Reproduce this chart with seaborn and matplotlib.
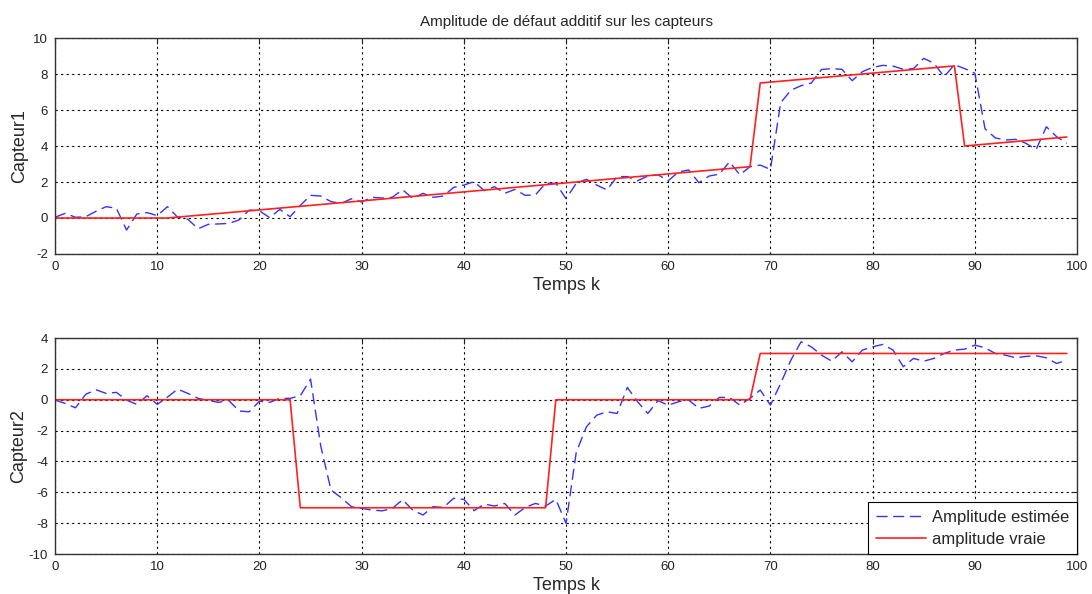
import pandas as pd
import matplotlib.pyplot as plt
import numpy as np
import seaborn as sns

# temps k = 0..99
temps = list(range(100))

# capteur 1 : amplitude estimee
estime1 = [0.04, 0.26, 0.04, 0.07, 0.37, 0.63, 0.54, -0.67, 0.22, 0.30,
           0.13, 0.63, 0.04, -0.07, -0.60, -0.35, -0.33, -0.30, -0.11, 0.44,
           0.40, 0.02, 0.48, 0.07, 0.70, 1.26, 1.22, 0.91, 0.81, 1.07,
           0.89, 1.15, 1.11, 1.15, 1.57, 1.09, 1.37, 1.15, 1.22, 1.70,
           1.83, 2.02, 1.52, 1.74, 1.37, 1.59, 1.26, 1.28, 1.93, 1.93,
           1.07, 1.93, 2.15, 1.83, 1.56, 2.30, 2.30, 2.07, 2.33, 2.40,
           2.07, 2.56, 2.67, 1.96, 2.33, 2.44, 3.12, 2.40, 2.85, 2.94,
           2.70, 6.40, 7.10, 7.35, 7.50, 8.25, 8.30, 8.26, 7.63, 8.13,
           8.37, 8.48, 8.44, 8.26, 8.30, 8.87, 8.60, 7.85, 8.52, 8.30,
           8.04, 4.95, 4.45, 4.33, 4.37, 4.15, 3.81, 5.07, 4.52, 4.15]

# capteur 1 : amplitude vraie
vraie1 = [0, 0, 0, 0, 0, 0, 0, 0, 0, 0,
          0, 0, 0.05, 0.10, 0.15, 0.20, 0.25, 0.30, 0.35, 0.40,
          0.45, 0.50, 0.55, 0.60, 0.65, 0.70, 0.75, 0.80, 0.85, 0.90,
          0.95, 1.00, 1.05, 1.10, 1.15, 1.20, 1.25, 1.30, 1.35, 1.40,
          1.45, 1.50, 1.55, 1.60, 1.65, 1.70, 1.75, 1.80, 1.85, 1.90,
          1.95, 2.00, 2.05, 2.10, 2.15, 2.20, 2.25, 2.30, 2.35, 2.40,
          2.45, 2.50, 2.55, 2.60, 2.65, 2.70, 2.75, 2.80, 2.85, 7.50,
          7.55, 7.60, 7.65, 7.70, 7.75, 7.80, 7.85, 7.90, 7.95, 8.00,
          8.05, 8.10, 8.15, 8.20, 8.25, 8.30, 8.35, 8.40, 8.45, 4.00,
          4.05, 4.10, 4.15, 4.20, 4.25, 4.30, 4.35, 4.40, 4.45, 4.50]

# capteur 2 : amplitude estimee
estime2 = [-0.02, -0.24, -0.52, 0.35, 0.65, 0.41, 0.48, -0.02, -0.30, 0.26,
           -0.30, 0.17, 0.69, 0.41, 0.09, -0.04, -0.17, -0.04, -0.73, -0.78,
           -0.09, -0.17, 0.09, 0.09, 0.26, 1.34, -3.00, -5.85, -6.35, -6.93,
           -7.04, -7.15, -7.20, -7.05, -6.48, -7.15, -7.47, -6.93, -6.98, -6.39,
           -6.46, -7.19, -6.76, -6.89, -6.72, -7.47, -6.98, -6.72, -6.89, -6.46,
           -8.01, -3.40, -1.75, -1.00, -0.78, -0.89, 0.80, -0.13, -0.89, -0.06,
           -0.35, -0.13, -0.02, -0.56, -0.41, 0.15, 0.15, -0.35, 0.09, 0.63,
           -0.35, 1.06, 2.57, 3.76, 3.43, 2.89, 2.50, 3.11, 2.46, 3.22,
           3.43, 3.59, 3.22, 2.14, 2.68, 2.50, 2.68, 3.00, 3.22, 3.28,
           3.54, 3.37, 3.00, 2.89, 2.72, 2.81, 2.85, 2.72, 2.35, 2.57]

# capteur 2 : amplitude vraie (echelons)
vraie2 = [0] * 24 + [-7] * 25 + [0] * 20 + [3] * 31

df = pd.DataFrame({"k": temps, "est1": estime1, "vr1": vraie1,
                   "est2": estime2, "vr2": vraie2})

sns.set_style("white")
plt.rcParams['font.family'] = ['Liberation Sans', 'DejaVu Sans']
plt.rcParams['axes.unicode_minus'] = False

fig = plt.figure(figsize=(10.92, 5.94), dpi=100)
ax1 = fig.add_axes([0.0504, 0.5724, 0.9359, 0.3636])
ax2 = fig.add_axes([0.0504, 0.0673, 0.9359, 0.3636])

for ax, est, vr, ylim in [(ax1, "est1", "vr1", (-2, 10)), (ax2, "est2", "vr2", (-10, 4))]:
    sns.lineplot(data=df, x="k", y=est, ax=ax, color="#3333ff", lw=1.0,
                 ls=(0, (8, 4)), label="Amplitude estimée")
    sns.lineplot(data=df, x="k", y=vr, ax=ax, color="#ff2020", lw=1.2,
                 label="amplitude vraie")
    ax.set_xlim(0, 100)
    ax.set_ylim(*ylim)
    ax.set_xticks(np.arange(0, 101, 10))
    ax.set_yticks(np.arange(ylim[0], ylim[1] + 1, 2))
    ax.grid(True, color="black", ls=(0, (2, 3)), lw=0.8)
    ax.tick_params(direction="in", length=4, labelsize=9.5, top=True, right=True,
                   colors="#222222", pad=5)
    for s in ax.spines.values():
        s.set_color("#333333")
        s.set_linewidth(1.0)
    ax.set_xlabel("Temps k", fontsize=13, labelpad=3)

ax1.set_ylabel("Capteur1", fontsize=13, labelpad=4)
ax2.set_ylabel("Capteur2", fontsize=13, labelpad=1)
ax1.get_legend().remove()
leg = ax2.legend(loc="lower right", borderaxespad=0, fontsize=12, fancybox=False,
                 framealpha=1, handlelength=3.0, borderpad=0.45, labelspacing=0.4,
                 handletextpad=0.4)
leg.get_frame().set_edgecolor("black")
leg.get_frame().set_linewidth(0.8)

ax1.set_title("Amplitude de défaut additif sur les capteurs", fontsize=11, pad=9)

fig.savefig("out.png", dpi=100)
